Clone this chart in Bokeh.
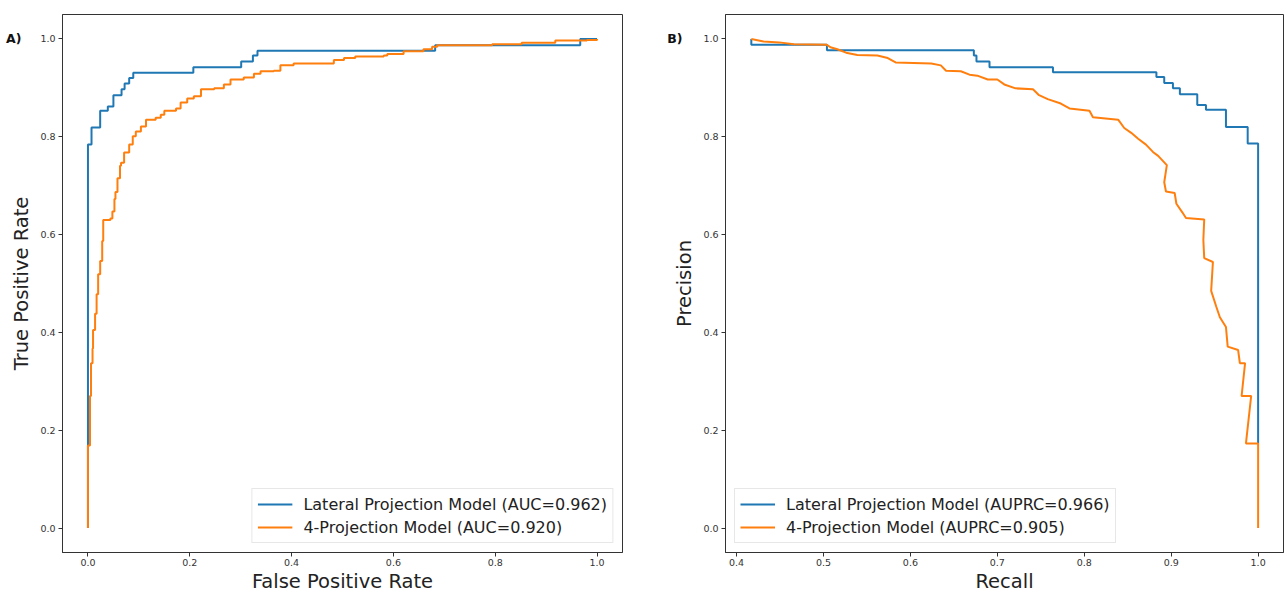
from bokeh.plotting import figure
from bokeh.layouts import row
from bokeh.models import (Range1d, FixedTicker, PrintfTickFormatter, LinearAxis,
                          CustomJSTickFormatter)
from bokeh.embed import file_html
from bokeh.resources import INLINE

BLUE = "#1f77b4"
ORANGE = "#ff7f0e"
FONT = "DejaVu Sans"

# ---- ROC data (corners of the step curves) ----
roc_lat_fpr = [0.0, 0.0, 0.007, 0.024, 0.039, 0.050, 0.066, 0.072, 0.081, 0.089,
               0.207, 0.301, 0.324, 0.333, 0.682, 0.967, 1.0]
roc_lat_tpr = [0.0, 0.784, 0.819, 0.853, 0.862, 0.885, 0.897, 0.909, 0.920, 0.931,
               0.942, 0.954, 0.966, 0.976, 0.987, 1.0, 1.0]

roc_4p_fpr = [0.0, 0.0, 0.004, 0.006, 0.009, 0.010, 0.014, 0.017, 0.020, 0.024,
              0.028, 0.030, 0.044, 0.048, 0.052, 0.054, 0.058, 0.063, 0.065, 0.071,
              0.081, 0.088, 0.094, 0.104, 0.114, 0.133, 0.143, 0.150, 0.173, 0.182,
              0.195, 0.208, 0.222, 0.248, 0.267, 0.280, 0.306, 0.326, 0.339, 0.365,
              0.378, 0.404, 0.483, 0.503, 0.525, 0.581, 0.588, 0.620, 0.659, 0.676,
              0.686, 0.794, 0.852, 0.918, 0.980, 1.0]
roc_4p_tpr = [0.0, 0.169, 0.270, 0.337, 0.367, 0.405, 0.438, 0.478, 0.519, 0.546,
              0.587, 0.630, 0.633, 0.647, 0.673, 0.687, 0.715, 0.741, 0.747, 0.768,
              0.784, 0.801, 0.811, 0.821, 0.835, 0.839, 0.845, 0.853, 0.858, 0.870,
              0.878, 0.883, 0.897, 0.899, 0.907, 0.917, 0.921, 0.929, 0.934, 0.935,
              0.946, 0.950, 0.957, 0.961, 0.964, 0.966, 0.969, 0.975, 0.979, 0.984,
              0.987, 0.989, 0.992, 0.997, 0.998, 1.0]

# ---- Precision-recall data ----
pr_lat_recall = [0.417, 0.417, 0.504, 0.673, 0.676, 0.691, 0.764, 0.883, 0.892, 0.902,
                 0.910, 0.930, 0.940, 0.963, 0.988, 1.0]
pr_lat_precision = [1.0, 0.988, 0.977, 0.966, 0.954, 0.942, 0.932, 0.922, 0.910, 0.899,
                    0.887, 0.865, 0.855, 0.820, 0.786, 0.173]

pr_4p_recall = [0.417, 0.431, 0.449, 0.466, 0.504, 0.508, 0.516, 0.526, 0.539, 0.562,
                0.574, 0.583, 0.624, 0.635, 0.641, 0.658, 0.668, 0.677, 0.689, 0.700,
                0.708, 0.721, 0.741, 0.748, 0.758, 0.773, 0.783, 0.806, 0.810, 0.839,
                0.846, 0.854, 0.862, 0.871, 0.879, 0.885, 0.895, 0.892, 0.894, 0.904,
                0.906, 0.913, 0.917, 0.938, 0.937, 0.938, 0.948, 0.946, 0.952, 0.956,
                0.963, 0.965, 0.977, 0.979, 0.985, 0.981, 0.992, 0.986, 1.0, 1.0]
pr_4p_precision = [1.0, 0.995, 0.993, 0.989, 0.988, 0.983, 0.979, 0.972, 0.967, 0.966,
                   0.961, 0.952, 0.950, 0.946, 0.935, 0.934, 0.927, 0.925, 0.917, 0.917,
                   0.907, 0.899, 0.897, 0.885, 0.877, 0.868, 0.858, 0.853, 0.840, 0.835,
                   0.818, 0.808, 0.796, 0.784, 0.769, 0.761, 0.742, 0.707, 0.688, 0.685,
                   0.663, 0.645, 0.634, 0.631, 0.589, 0.552, 0.544, 0.485, 0.452, 0.431,
                   0.411, 0.371, 0.364, 0.337, 0.337, 0.270, 0.270, 0.173, 0.173, 0.0]

roc_labels = ["Lateral Projection Model (AUC=0.962)", "4-Projection Model (AUC=0.920)"]
pr_labels = ["Lateral Projection Model (AUPRC=0.966)", "4-Projection Model (AUPRC=0.905)"]
panel_tags = ["A)", "B)"]

roc_xticks = [0.0, 0.2, 0.4, 0.6, 0.8, 1.0]
pr_xticks = [0.4, 0.5, 0.6, 0.7, 0.8, 0.9, 1.0]
yticks = [0.0, 0.2, 0.4, 0.6, 0.8, 1.0]


def style(p, xticks, xlabel, ylabel):
    p.grid.visible = False
    p.outline_line_color = "#333333"
    p.outline_line_width = 1
    p.outline_line_alpha = 1.0
    p.background_fill_color = "white"
    p.border_fill_color = "white"
    p.xaxis.ticker = FixedTicker(ticks=xticks)
    p.yaxis.ticker = FixedTicker(ticks=yticks)
    for ax in (p.xaxis[0], p.yaxis[0]):
        ax.formatter = PrintfTickFormatter(format="%.1f")
        ax.axis_line_color = "#333333"
        ax.major_tick_line_color = "#333333"
        ax.major_tick_out = 4
        ax.major_tick_in = 0
        ax.minor_tick_line_color = None
        ax.major_label_text_font = FONT
        ax.major_label_text_font_size = "9.5px"
        ax.major_label_text_color = "#333333"
        ax.major_label_standoff = 3
        ax.axis_label_text_font = FONT
        ax.axis_label_text_font_size = "19.5px"
        ax.axis_label_text_font_style = "normal"
        ax.axis_label_text_color = "#222222"
        ax.axis_label_standoff = 4
    p.xaxis[0].major_label_standoff = 2
    p.xaxis[0].axis_label_standoff = 1
    p.xaxis.axis_label = xlabel
    p.yaxis.axis_label = ylabel


def add_tag(p, tag, standoff):
    ax = LinearAxis(ticker=FixedTicker(ticks=[1.0]),
                    formatter=CustomJSTickFormatter(code="return '%s';" % tag))
    ax.axis_line_color = None
    ax.major_tick_line_color = None
    ax.minor_tick_line_color = None
    ax.major_tick_out = 0
    ax.major_tick_in = 0
    ax.major_label_standoff = standoff
    ax.major_label_text_font = FONT
    ax.major_label_text_font_size = "12.5px"
    ax.major_label_text_font_style = "bold"
    ax.major_label_text_color = "#111111"
    p.add_layout(ax, "left")


def style_legend(p, loc):
    lg = p.legend[0]
    lg.location = loc
    lg.margin = 9
    lg.padding = 5
    lg.spacing = 3
    lg.label_text_font = FONT
    lg.label_text_font_size = "16px"
    lg.label_text_color = "#222222"
    lg.label_height = 20
    lg.glyph_height = 20
    lg.glyph_width = 35
    lg.label_standoff = 11
    lg.border_line_color = "#d0d0d0"
    lg.border_line_width = 1
    lg.background_fill_alpha = 0.8


p1 = figure(width=640, height=595, x_range=Range1d(-0.05, 1.05), y_range=Range1d(-0.05, 1.05),
            output_backend="svg", toolbar_location=None,
            min_border_left=62, min_border_right=18, min_border_top=14, min_border_bottom=0)
style(p1, roc_xticks, "False Positive Rate", "True Positive Rate")
p1.step(roc_lat_fpr, roc_lat_tpr, mode="after", line_color=BLUE, line_width=2,
        legend_label=roc_labels[0])
p1.step(roc_4p_fpr, roc_4p_tpr, mode="after", line_color=ORANGE, line_width=2,
        legend_label=roc_labels[1])
style_legend(p1, "bottom_right")
add_tag(p1, panel_tags[0], -14)

p2 = figure(width=647, height=595, x_range=Range1d(0.3873, 1.0292), y_range=Range1d(-0.05, 1.05),
            output_backend="svg", toolbar_location=None,
            min_border_left=85, min_border_right=4, min_border_top=14, min_border_bottom=0)
style(p2, pr_xticks, "Recall", "Precision")
p2.step(pr_lat_recall, pr_lat_precision, mode="after", line_color=BLUE, line_width=2,
        legend_label=pr_labels[0])
p2.line(pr_4p_recall, pr_4p_precision, line_color=ORANGE, line_width=2,
        legend_label=pr_labels[1])
style_legend(p2, "bottom_left")
add_tag(p2, panel_tags[1], -12)

layout = row(p1, p2, spacing=0)
open("out.html", "w").write(file_html(layout, INLINE))
